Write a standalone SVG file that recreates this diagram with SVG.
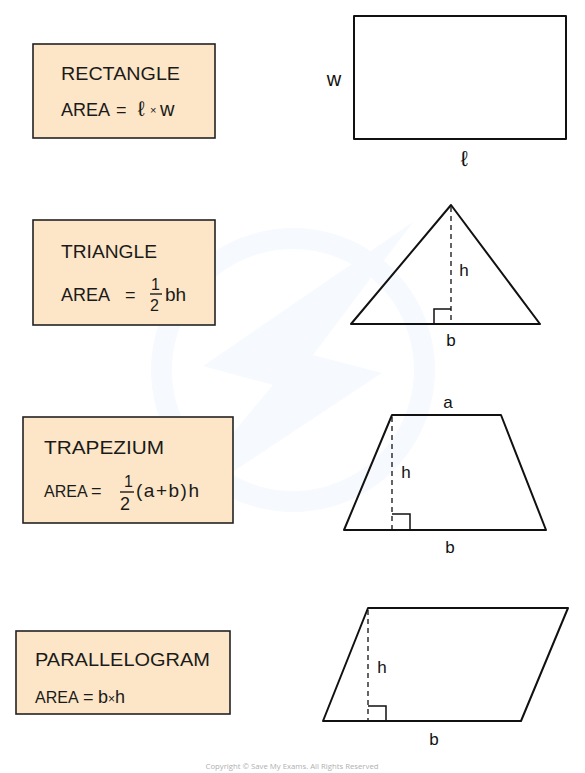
<svg xmlns="http://www.w3.org/2000/svg" width="585" height="773" viewBox="0 0 585 773">
  <style>
    .box { fill: #fde6c7; stroke: #222; stroke-width: 1.6; }
    .t { font-family: "Liberation Sans", Arial, sans-serif; fill: #1a1a1a; }
    .title { font-size: 18px; }
    .f { font-size: 18px; }
    .small { font-size: 16px; }
    .shape { fill: none; stroke: #111; stroke-width: 2; stroke-linejoin: round; }
    .dash { fill: none; stroke: #111; stroke-width: 1.3; stroke-dasharray: 5 4; }
    .ra { fill: none; stroke: #111; stroke-width: 1.5; }
    .lbl { font-family: "Liberation Sans", Arial, sans-serif; fill: #111; text-anchor: middle; }
    .wm { fill: #f6f9fd; }
  </style>
  <rect width="585" height="773" fill="#ffffff"/>
  <g id="watermark">
    <path class="wm" fill-rule="evenodd" d="M293,228 a142,142 0 1,0 0.1,0 Z M293,249 a121,121 0 1,1 -0.1,0 Z"/>
    <polygon class="wm" points="413,222 313,355 382,373 160,520 273,385 203,366"/>
  </g>
  <g id="connectors"></g>

  <g id="rectangle-card">
    <rect class="box" x="33" y="44" width="182" height="94"/>
    <text class="t title" x="61" y="80" textLength="119" lengthAdjust="spacingAndGlyphs">RECTANGLE</text>
    <text class="t f" x="61" y="116">AREA</text>
    <text class="t f" x="116" y="116">=</text>
    <text class="t" x="138" y="116" font-size="21">ℓ</text>
    <text class="t" x="150" y="114" font-size="11">×</text>
    <text class="t" x="160" y="116" font-size="20">w</text>
  </g>
  <g id="rectangle-shape">
    <rect class="shape" x="354" y="16" width="212" height="123"/>
    <text class="lbl" x="334" y="86" font-size="20">w</text>
    <text class="lbl" x="464" y="166" font-size="22">ℓ</text>
  </g>

  <g id="triangle-card">
    <rect class="box" x="33" y="220" width="182" height="105"/>
    <text class="t title" x="61" y="258" textLength="96" lengthAdjust="spacingAndGlyphs">TRIANGLE</text>
    <text class="t f" x="61" y="301">AREA</text>
    <text class="t f" x="125" y="301">=</text>
    <text class="t small" x="151" y="290">1</text>
    <line x1="150" y1="294" x2="162" y2="294" stroke="#1a1a1a" stroke-width="1.4"/>
    <text class="t small" x="150" y="311">2</text>
    <text class="t" x="165" y="301" font-size="19">bh</text>
  </g>
  <g id="triangle-shape">
    <polygon class="shape" points="451,205 540,324 351,324"/>
    <line class="dash" x1="451" y1="207" x2="451" y2="324"/>
    <polyline class="ra" points="434,324 434,309 451,309"/>
    <text class="lbl" x="464" y="276" font-size="17">h</text>
    <text class="lbl" x="451" y="346" font-size="17">b</text>
  </g>

  <g id="trapezium-card">
    <rect class="box" x="23" y="417" width="210" height="106"/>
    <text class="t title" x="44" y="454" textLength="120" lengthAdjust="spacingAndGlyphs">TRAPEZIUM</text>
    <text class="t" x="44" y="497" font-size="16">AREA</text>
    <text class="t f" x="91" y="497">=</text>
    <text class="t small" x="124" y="487">1</text>
    <line x1="120" y1="492" x2="134" y2="492" stroke="#1a1a1a" stroke-width="1.4"/>
    <text class="t f" x="120" y="510">2</text>
    <text class="t" x="136" y="497" font-size="19" textLength="63" lengthAdjust="spacing">(a+b)h</text>
  </g>
  <g id="trapezium-shape">
    <polygon class="shape" points="392,415 501,415 546,530 344,530"/>
    <line class="dash" x1="392" y1="417" x2="392" y2="530"/>
    <polyline class="ra" points="392,514 410,514 410,530"/>
    <text class="lbl" x="406" y="478" font-size="17">h</text>
    <text class="lbl" x="448" y="408" font-size="17">a</text>
    <text class="lbl" x="450" y="553" font-size="17">b</text>
  </g>

  <g id="parallelogram-card">
    <rect class="box" x="16" y="631" width="214" height="83"/>
    <text class="t title" x="35" y="666" textLength="175" lengthAdjust="spacingAndGlyphs">PARALLELOGRAM</text>
    <text class="t" x="35" y="703" font-size="16">AREA</text>
    <text class="t f" x="83" y="703">=</text>
    <text class="t f" x="98" y="703">b<tspan font-size="12">×</tspan>h</text>
  </g>
  <g id="parallelogram-shape">
    <polygon class="shape" points="368,608 568,608 521,721 323,721"/>
    <line class="dash" x1="368" y1="610" x2="368" y2="721"/>
    <polyline class="ra" points="368,706 386,706 386,721"/>
    <text class="lbl" x="382" y="673" font-size="17">h</text>
    <text class="lbl" x="434" y="745" font-size="17">b</text>
  </g>

  <text x="292" y="769" font-family="'Open Sans', 'Liberation Sans', sans-serif" font-size="7.5" fill="#b0b0b0" text-anchor="middle" textLength="173" lengthAdjust="spacingAndGlyphs">Copyright © Save My Exams. All Rights Reserved</text>
</svg>
